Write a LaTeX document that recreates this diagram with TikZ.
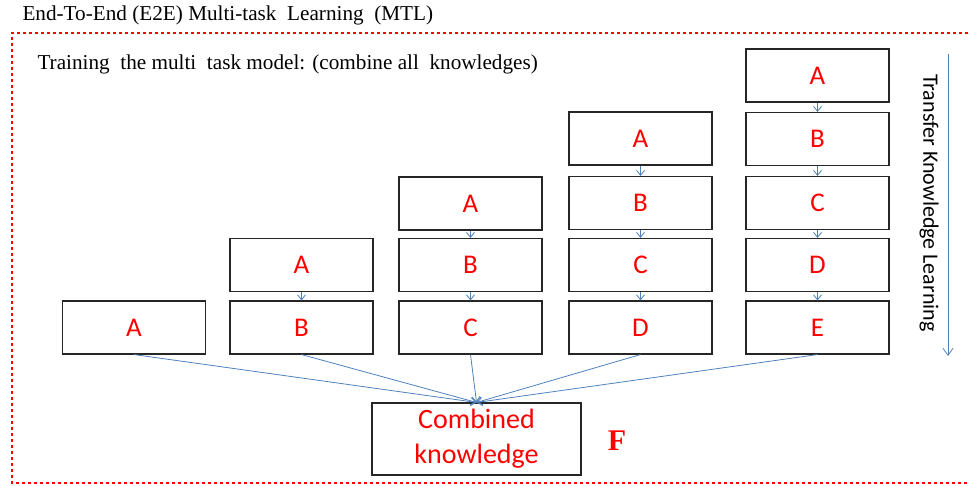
\documentclass[tikz,border=0pt]{standalone}
\usepackage{fontspec}
\setmainfont{Liberation Serif}
\newfontfamily\calib{Carlito}
\usetikzlibrary{arrows.meta}
\definecolor{arrowblue}{RGB}{79,129,189}

\begin{document}
\begin{tikzpicture}[x=1pt,y=-1pt,
    taskbox/.style ={rectangle, draw=black!85, line width=1.1pt, minimum width=143pt, minimum height=53pt, inner sep=0pt, text=red, font=\calib\fontsize{27}{30}\selectfont},
    flow/.style ={draw=arrowblue, line width=0.8pt, -{Straight Barb[length=5pt,width=8pt]}}]
   \useasboundingbox (0,0) rectangle (968,486);

   % frame and headings
   \draw[red, line width=2.6pt, dash pattern=on 2.6pt off 3.4pt] (968,33) -- (12,33) -- (12,483) -- (968,483);
   \node[anchor=west, font=\fontsize{21.2}{23}\selectfont] (title) at (19,15) {End-To-End (E2E) Multi-task \ Learning \ (MTL)};
   \node[anchor=west, font=\fontsize{21.2}{23}\selectfont] (train) at (34,64) {Training \ the multi \ task model: (combine all \ knowledges)};

   % column 1
   \node[taskbox] (c1a) at (134,327.5) {A};

   % column 2
   \node[taskbox] (c2a) at (301.5,265) {A};
   \node[taskbox] (c2b) at (301.5,327.5) {B};

   % column 3
   \node[taskbox] (c3a) at (470.5,203.5) {A};
   \node[taskbox] (c3b) at (470.5,265) {B};
   \node[taskbox] (c3c) at (470.5,327.5) {C};

   % column 4
   \node[taskbox] (c4a) at (640.5,138.5) {A};
   \node[taskbox] (c4b) at (640.5,203) {B};
   \node[taskbox] (c4c) at (640.5,265) {C};
   \node[taskbox] (c4d) at (640.5,327.5) {D};

   % column 5
   \node[taskbox] (c5a) at (817.5,75.5) {A};
   \node[taskbox] (c5b) at (817.5,139) {B};
   \node[taskbox] (c5c) at (817.5,203) {C};
   \node[taskbox] (c5d) at (817.5,265) {D};
   \node[taskbox] (c5e) at (817.5,327.5) {E};

   % combined box
   \node[taskbox, minimum width=209pt, minimum height=72pt, align=center, font=\calib\fontsize{28}{35}\selectfont] (comb) at (476.5,439) {Combined\\knowledge};
   \node[text=red, font=\bfseries\fontsize{30}{32}\selectfont] (fmark) at (617,441) {F};

   % stack arrows
   \draw[flow] (c2a) -- (c2b);
   \draw[flow] (c3a) -- (c3b);
   \draw[flow] (c3b) -- (c3c);
   \draw[flow] (c4a) -- (c4b);
   \draw[flow] (c4b) -- (c4c);
   \draw[flow] (c4c) -- (c4d);
   \draw[flow] (c5a) -- (c5b);
   \draw[flow] (c5b) -- (c5c);
   \draw[flow] (c5c) -- (c5d);
   \draw[flow] (c5d) -- (c5e);

   % to combined knowledge
   \draw[flow] (c1a.south) -- (comb.north);
   \draw[flow] (c2b.south) -- (comb.north);
   \draw[flow] (c3c.south) -- (comb.north);
   \draw[flow] (c4d.south) -- (comb.north);
   \draw[flow] (c5e.south) -- (comb.north);

   % transfer knowledge learning
   \coordinate (tstart) at (948,54);
   \coordinate (tend) at (948,356);
   \draw[flow, -{Straight Barb[length=7pt,width=10pt]}] (tstart) -- (tend);
   \node[rotate=-90, font=\calib\fontsize{22}{24}\selectfont] (tlabel) at (929,203) {Transfer Knowledge Learning};
\end{tikzpicture}
\end{document}
